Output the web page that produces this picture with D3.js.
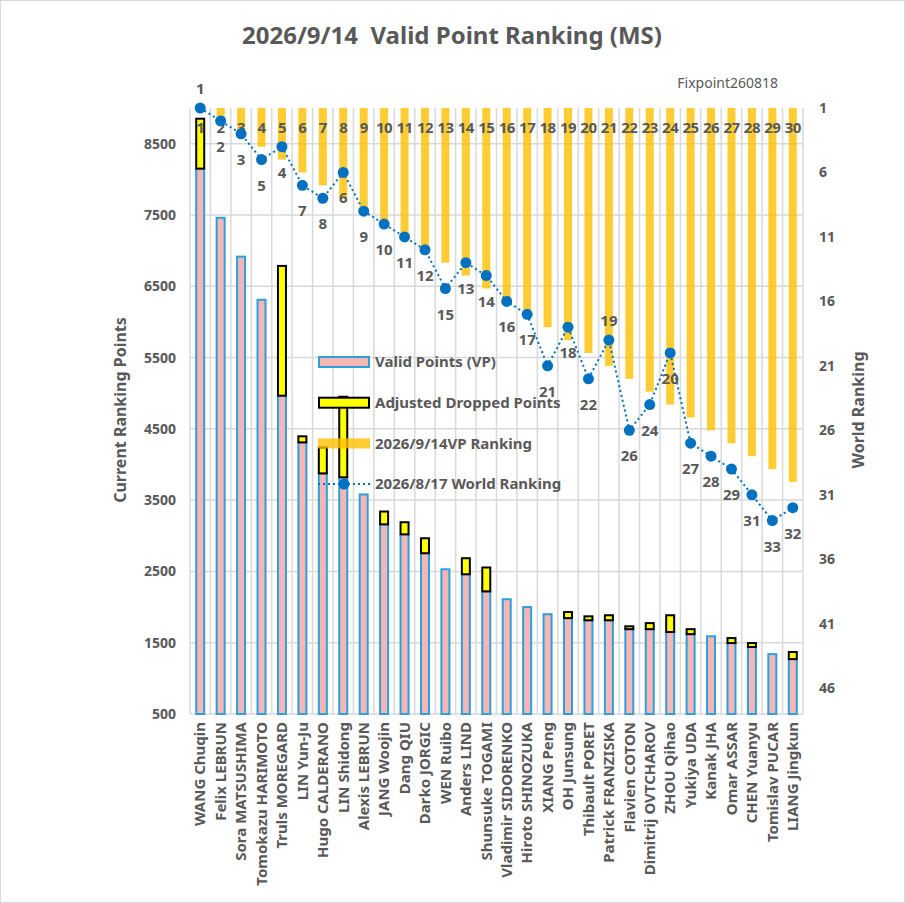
<!DOCTYPE html>
<html>
<head>
<meta charset="utf-8">
<script src="https://cdn.jsdelivr.net/npm/d3@7"></script>
<style>
  body { margin: 0; background: #fff; }
  text { font-family: "Noto Sans", "Open Sans", sans-serif; fill: #595959; }
</style>
</head>
<body>
<svg id="chart" width="905" height="903"></svg>
<script>
// data
const players = ['WANG Chuqin', 'Felix LEBRUN', 'Sora MATSUSHIMA', 'Tomokazu HARIMOTO', 'Truls MOREGARD',
    'LIN Yun-Ju', 'Hugo CALDERANO', 'LIN Shidong', 'Alexis LEBRUN', 'JANG Woojin',
    'Dang QIU', 'Darko JORGIC', 'WEN Ruibo', 'Anders LIND', 'Shunsuke TOGAMI',
    'Vladimir SIDORENKO', 'Hiroto SHINOZUKA', 'XIANG Peng', 'OH Junsung', 'Thibault PORET',
    'Patrick FRANZISKA', 'Flavien COTON', 'Dimitrij OVTCHAROV', 'ZHOU Qihao', 'Yukiya UDA',
    'Kanak JHA', 'Omar ASSAR', 'CHEN Yuanyu', 'Tomislav PUCAR', 'LIANG Jingkun'];
const validPoints = [8150, 7460, 6915, 6310, 4965, 4310, 3875, 3820, 3580, 3160,
    3020, 2755, 2530, 2460, 2220, 2110, 2000, 1900, 1845, 1815,
    1815, 1690, 1690, 1650, 1620, 1590, 1495, 1440, 1340, 1270];
const droppedPoints = [700, 0, 0, 0, 1820, 85, 365, 1130, 0, 180,
    170, 210, 0, 225, 335, 0, 0, 0, 85, 55,
    70, 40, 85, 235, 70, 0, 70, 55, 0, 100];
const vpRanking = [1, 2, 3, 4, 5, 6, 7, 8, 9, 10, 11, 12, 13, 14, 15,
    16, 17, 18, 19, 20, 21, 22, 23, 24, 25, 26, 27, 28, 29, 30];
const worldRanking = [1, 2, 3, 5, 4, 7, 8, 6, 9, 10, 11, 12, 15, 13, 14,
    16, 17, 21, 18, 22, 19, 26, 24, 20, 27, 28, 29, 31, 33, 32];
const pointTicks = [500, 1500, 2500, 3500, 4500, 5500, 6500, 7500, 8500];
const rankTicks = [1, 6, 11, 16, 21, 26, 31, 36, 41, 46];
const legendItems = ['Valid Points (VP)', 'Adjusted Dropped Points', '2026/9/14VP Ranking', '2026/8/17 World Ranking'];
const labelsAbove = ['WANG Chuqin', 'Patrick FRANZISKA'];

const rows = players.map((name, i) => ({
    name: name,
    vp: validPoints[i],
    dropped: droppedPoints[i],
    vpRank: vpRanking[i],
    world: worldRanking[i]
}));

const svg = d3.select('#chart');
const plotLeft = 190, plotRight = 803, plotTop = 108, plotBottom = 714;
const grid = '#d9d9d9';
const barW = 8;

svg.append('rect')
    .attr('x', 0.5).attr('y', 0.5).attr('width', 904).attr('height', 902)
    .attr('fill', '#fff').attr('stroke', grid);

const x = d3.scaleBand().domain(players).range([plotLeft, plotRight]).padding(0);
const yPts = d3.scaleLinear().domain([500, 9000]).range([plotBottom, plotTop]);
const yRank = d3.scaleLinear().domain([1, 48]).range([plotTop, plotBottom]);

// gridlines
const g = svg.append('g').attr('stroke', grid).attr('stroke-width', 1.5);
g.selectAll('line.h')
    .data(pointTicks)
    .enter().append('line')
        .attr('x1', plotLeft).attr('x2', plotRight)
        .attr('y1', d => yPts(d)).attr('y2', d => yPts(d));
g.selectAll('line.v')
    .data(d3.range(players.length + 1))
    .enter().append('line')
        .attr('x1', i => plotLeft + i * x.bandwidth()).attr('x2', i => plotLeft + i * x.bandwidth())
        .attr('y1', plotTop).attr('y2', plotBottom);

// axes
const axisL = svg.append('g')
    .attr('transform', 'translate(' + (plotLeft - 14) + ',0)')
    .call(d3.axisLeft(yPts).tickValues(pointTicks).tickFormat(d3.format('d')).tickSize(0).tickPadding(0));
const axisR = svg.append('g')
    .attr('transform', 'translate(' + (plotRight + 16) + ',0)')
    .call(d3.axisRight(yRank).tickValues(rankTicks).tickSize(0).tickPadding(0));
[axisL, axisR].forEach(a => {
    a.select('.domain').remove();
    a.selectAll('text').attr('font-size', 14).attr('font-weight', 'bold')
        .attr('fill', '#595959').style('font-family', '"Noto Sans", sans-serif');
});

const axisX = svg.append('g')
    .attr('transform', 'translate(0,' + plotBottom + ')')
    .call(d3.axisBottom(x).tickSize(0).tickPadding(0));
axisX.select('.domain').remove();
axisX.selectAll('text')
    .attr('transform', 'rotate(-90)')
    .attr('x', -8).attr('y', 0).attr('dy', '0.35em')
    .attr('text-anchor', 'end')
    .attr('font-size', 15).attr('font-weight', 'bold')
    .attr('fill', '#595959').style('font-family', '"Noto Sans", sans-serif');

// valid points bars
svg.append('g').selectAll('rect')
    .data(rows)
    .enter().append('rect')
        .attr('x', d => x(d.name) + x.bandwidth() / 2 - barW / 2)
        .attr('width', barW)
        .attr('y', d => yPts(d.vp))
        .attr('height', d => yPts(500) - yPts(d.vp))
        .attr('fill', '#f5b6b8')
        .attr('stroke', '#2e9fd8')
        .attr('stroke-width', 2);

// dropped points stacked on top
svg.append('g').selectAll('rect')
    .data(rows.filter(d => d.dropped > 0))
    .enter().append('rect')
        .attr('x', d => x(d.name) + x.bandwidth() / 2 - barW / 2)
        .attr('width', barW)
        .attr('y', d => yPts(d.vp + d.dropped))
        .attr('height', d => yPts(d.vp) - yPts(d.vp + d.dropped))
        .attr('fill', '#ffff00')
        .attr('stroke', '#000')
        .attr('stroke-width', 2);

// VP ranking bars hanging from the reversed secondary axis
svg.append('g').selectAll('rect')
    .data(rows)
    .enter().append('rect')
        .attr('x', d => x(d.name) + x.bandwidth() / 2 - barW / 2)
        .attr('width', barW)
        .attr('y', yRank(1))
        .attr('height', d => yRank(d.vpRank) - yRank(1))
        .attr('fill', '#ffc000')
        .attr('fill-opacity', 0.8);

svg.append('g').selectAll('text')
    .data(rows)
    .enter().append('text')
        .attr('x', d => x(d.name) + x.bandwidth() / 2)
        .attr('y', yRank(1) + 25)
        .attr('text-anchor', 'middle')
        .attr('font-size', 15).attr('font-weight', 'bold')
        .attr('fill', '#404040')
        .attr('letter-spacing', -0.5)
        .text(d => d.vpRank);

// world ranking line
const line = d3.line()
    .x(d => x(d.name) + x.bandwidth() / 2)
    .y(d => yRank(d.world));

svg.append('path')
    .datum(rows)
    .attr('d', line)
    .attr('fill', 'none')
    .attr('stroke', '#0070c0')
    .attr('stroke-width', 2)
    .attr('stroke-dasharray', '2,3');

svg.append('g').selectAll('circle')
    .data(rows)
    .enter().append('circle')
        .attr('cx', d => x(d.name) + x.bandwidth() / 2)
        .attr('cy', d => yRank(d.world))
        .attr('r', 5.5)
        .attr('fill', '#0070c0');

svg.append('g').selectAll('text')
    .data(rows)
    .enter().append('text')
        .attr('x', d => x(d.name) + x.bandwidth() / 2)
        .attr('y', d => yRank(d.world) + (labelsAbove.includes(d.name) ? -14 : 31))
        .attr('text-anchor', 'middle')
        .attr('font-size', 15).attr('font-weight', 'bold')
        .attr('fill', '#404040')
        .text(d => d.world);

// legend
const legend = svg.append('g').attr('transform', 'translate(318,362)');
legendItems.forEach(function(label, i) {
    const row = legend.append('g').attr('transform', 'translate(0,' + (i * 40.7) + ')');
    if (i === 0) {
        row.append('rect').attr('x', 1).attr('y', -5).attr('width', 50).attr('height', 10)
            .attr('fill', '#f5b6b8').attr('stroke', '#2e9fd8').attr('stroke-width', 2);
    } else if (i === 1) {
        row.append('rect').attr('x', 1).attr('y', -5).attr('width', 50).attr('height', 10)
            .attr('fill', '#ffff00').attr('stroke', '#000').attr('stroke-width', 2);
    } else if (i === 2) {
        row.append('rect').attr('x', 0).attr('y', -5).attr('width', 52).attr('height', 10)
            .attr('fill', '#ffc000').attr('fill-opacity', 0.8);
    } else {
        row.append('line').attr('x1', 0).attr('x2', 52).attr('y1', 0).attr('y2', 0)
            .attr('stroke', '#0070c0').attr('stroke-width', 2).attr('stroke-dasharray', '2,3');
        row.append('circle').attr('cx', 26).attr('cy', 0).attr('r', 5.5).attr('fill', '#0070c0');
    }
    row.append('text')
        .attr('x', 57).attr('y', 0).attr('dy', '0.35em')
        .attr('font-size', 15).attr('font-weight', 'bold')
        .text(label);
});

// titles
svg.append('text')
    .attr('x', 452).attr('y', 44)
    .attr('text-anchor', 'middle')
    .attr('font-size', 24).attr('font-weight', 'bold')
    .attr('xml:space', 'preserve')
    .text('2026/9/14  Valid Point Ranking (MS)');

svg.append('text')
    .attr('x', 778).attr('y', 88)
    .attr('text-anchor', 'end')
    .attr('font-size', 14)
    .attr('fill', '#404040')
    .text('Fixpoint260818');

svg.append('text')
    .attr('transform', 'translate(126,410) rotate(-90)')
    .attr('text-anchor', 'middle')
    .attr('font-size', 16).attr('font-weight', 'bold')
    .text('Current Ranking Points');

svg.append('text')
    .attr('transform', 'translate(864,410) rotate(-90)')
    .attr('text-anchor', 'middle')
    .attr('font-size', 16).attr('font-weight', 'bold')
    .text('World Ranking');
</script>
</body>
</html>
